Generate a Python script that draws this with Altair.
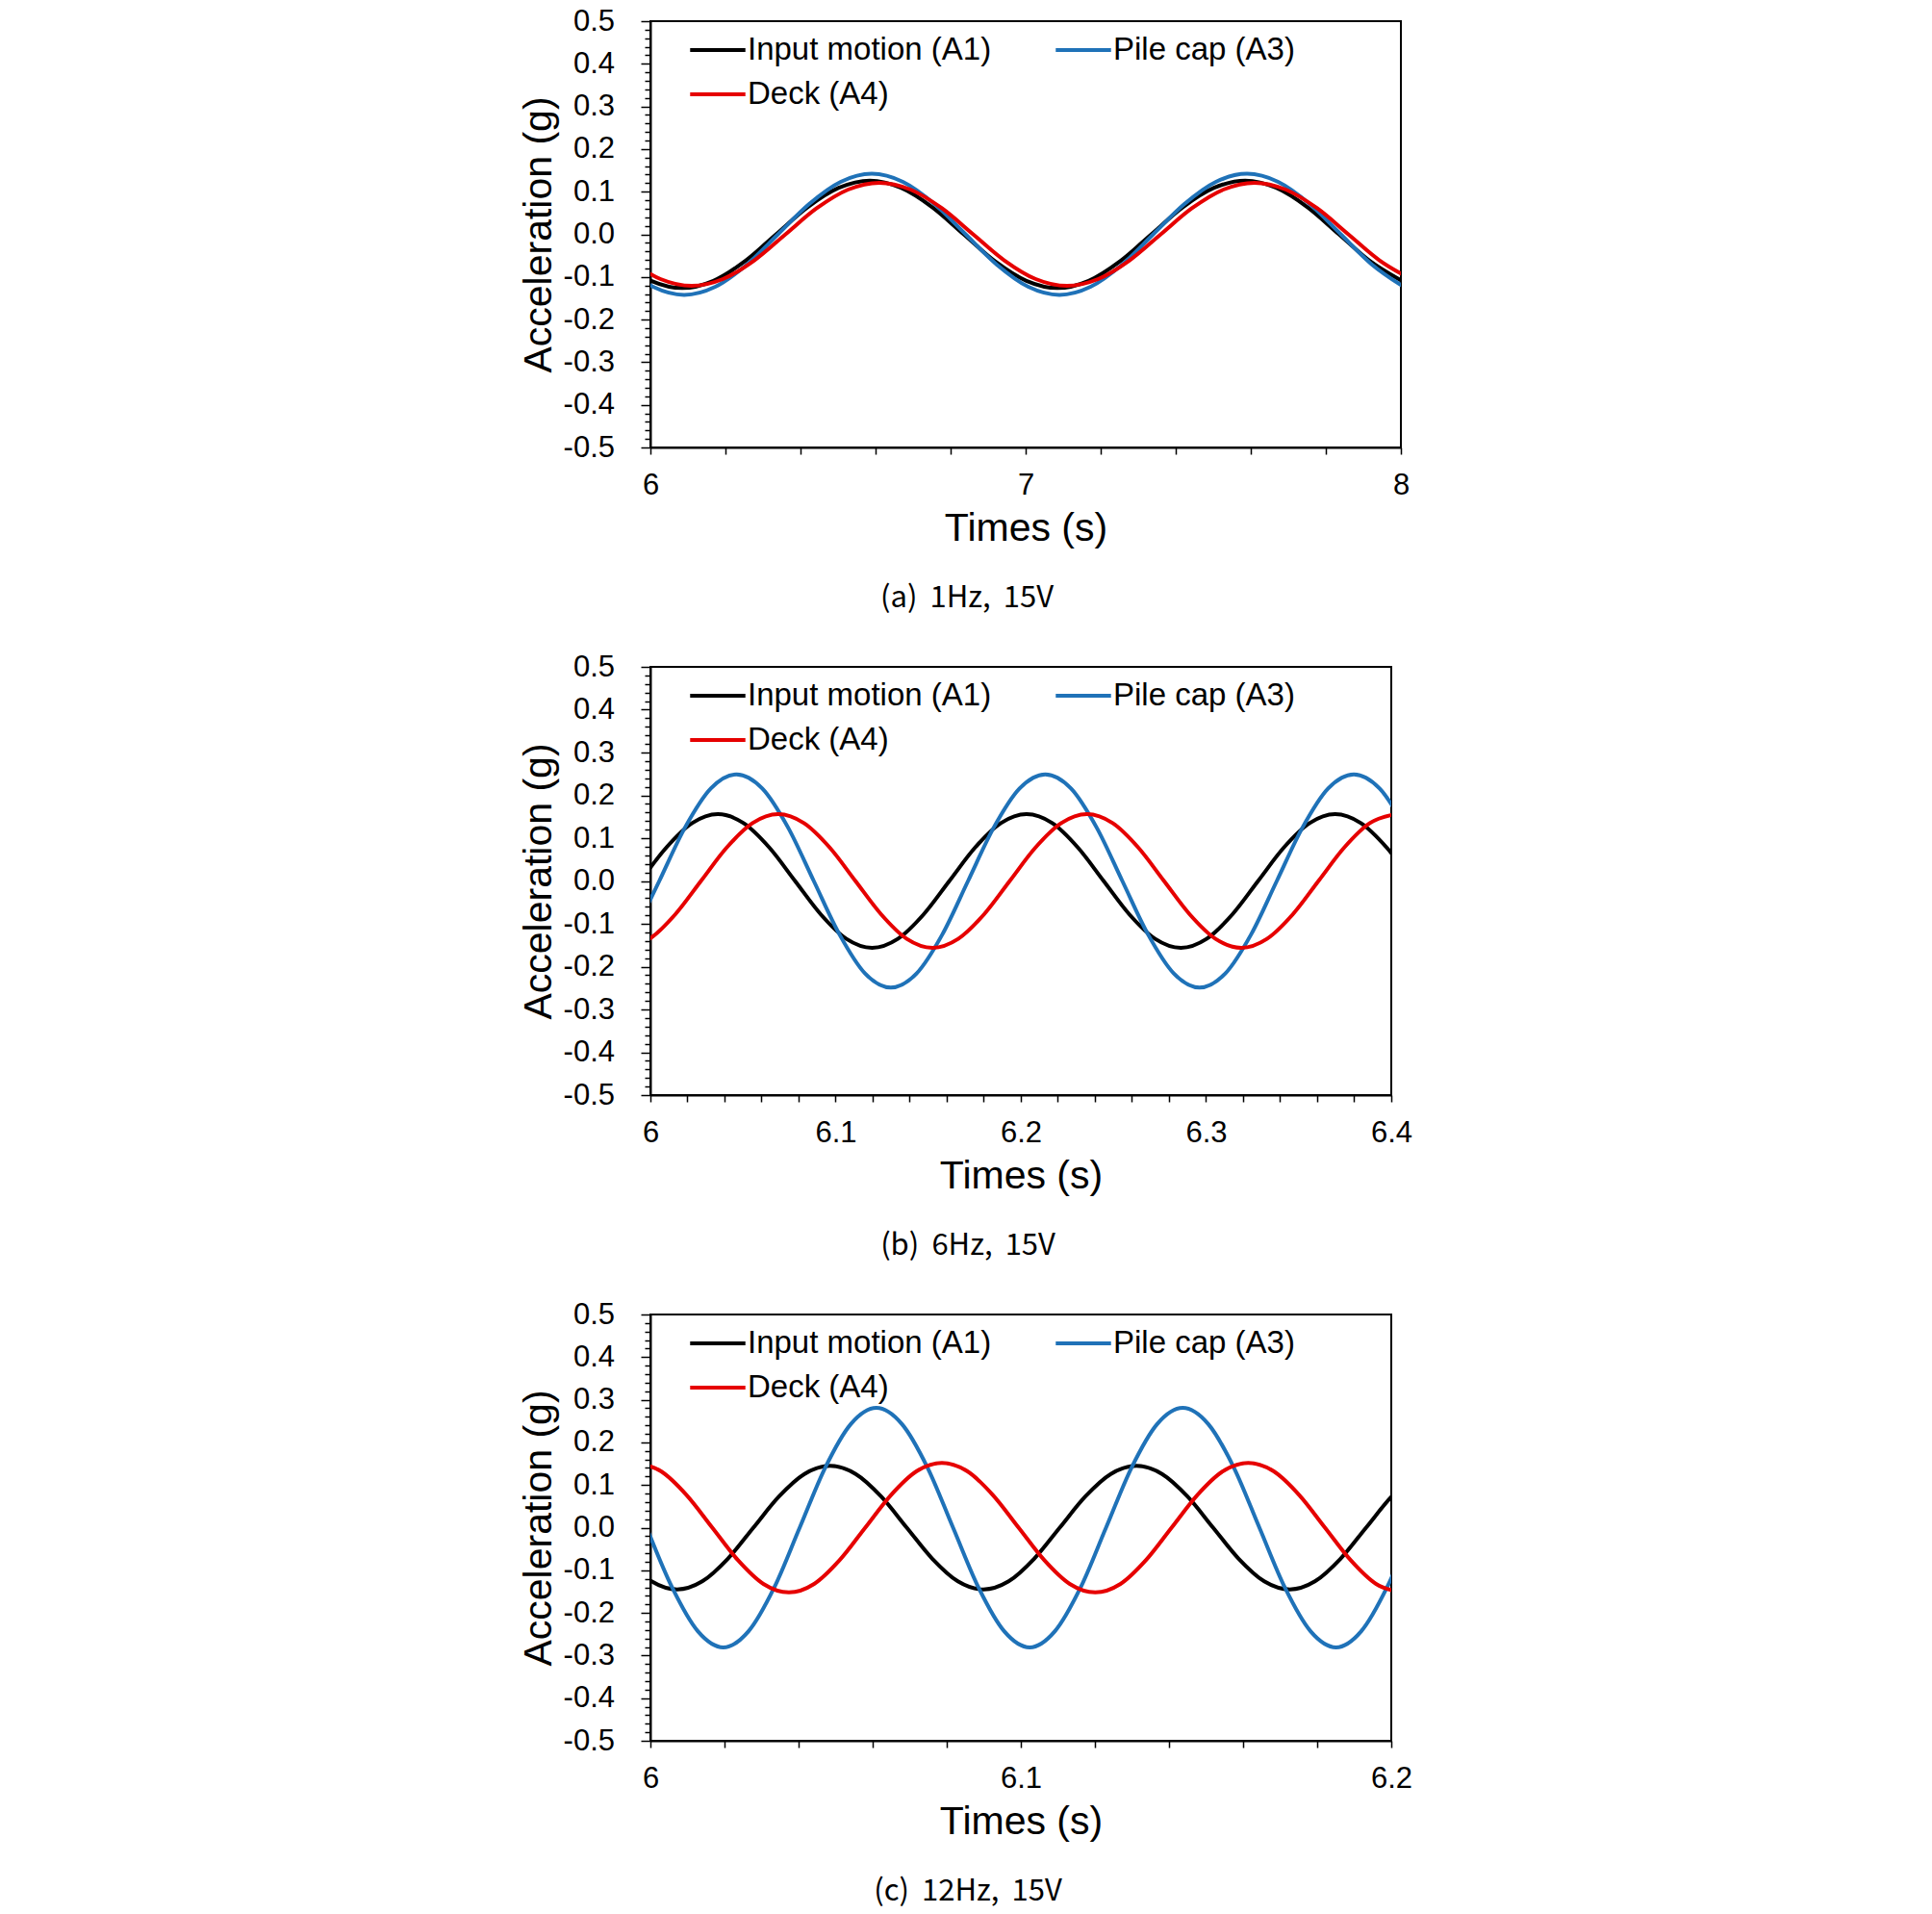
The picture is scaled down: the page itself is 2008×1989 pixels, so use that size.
import altair as alt
import pandas as pd

SERIES = ["Input motion (A1)", "Pile cap (A3)", "Deck (A4)"]
# legend entries fill column by column: A1 and A4 on the left, A3 on the right
LEGEND_ORDER = ["Input motion (A1)", "Deck (A4)", "Pile cap (A3)"]
LEGEND_COLORS = ["#000000", "#e60000", "#1f72b8"]

# ---------------- (a) 1 Hz, 15 V ----------------
A_T_A1 = [5.918, 6.002, 6.085, 6.168, 6.252, 6.335, 6.418, 6.502, 6.585, 6.668, 6.752, 6.835, 6.918,
          7.002, 7.085, 7.168, 7.252, 7.335, 7.418, 7.502, 7.585, 7.668, 7.752, 7.835, 7.918, 8.002]
A_V_A1 = [-0.063, -0.109, -0.126, -0.109, -0.063, 0.0, 0.063, 0.109, 0.126, 0.109, 0.063, 0.0, -0.063,
          -0.109, -0.126, -0.109, -0.063, 0.0, 0.063, 0.109, 0.126, 0.109, 0.063, 0.0, -0.063, -0.109]
A_T_A3 = [5.923, 6.007, 6.090, 6.173, 6.257, 6.340, 6.423, 6.507, 6.590, 6.673, 6.757, 6.840, 6.923,
          7.007, 7.090, 7.173, 7.257, 7.340, 7.423, 7.507, 7.590, 7.673, 7.757, 7.840, 7.923, 8.007]
A_V_A3 = [-0.071, -0.123, -0.142, -0.123, -0.071, 0.0, 0.071, 0.123, 0.142, 0.123, 0.071, 0.0, -0.071,
          -0.123, -0.142, -0.123, -0.071, 0.0, 0.071, 0.123, 0.142, 0.123, 0.071, 0.0, -0.071, -0.123]
A_T_A4 = [5.943, 6.027, 6.110, 6.193, 6.277, 6.360, 6.443, 6.527, 6.610, 6.693, 6.777, 6.860, 6.943,
          7.027, 7.110, 7.193, 7.277, 7.360, 7.443, 7.527, 7.610, 7.693, 7.777, 7.860, 7.943, 8.027]
A_V_A4 = [-0.061, -0.105, -0.121, -0.105, -0.061, 0.0, 0.061, 0.105, 0.121, 0.105, 0.061, 0.0, -0.061,
          -0.105, -0.121, -0.105, -0.061, 0.0, 0.061, 0.105, 0.121, 0.105, 0.061, 0.0, -0.061, -0.105]

# ---------------- (b) 6 Hz, 15 V ----------------
B_T_A1 = [5.9947, 6.0086, 6.0225, 6.0364, 6.0503, 6.0642, 6.0781, 6.0920, 6.1058, 6.1197, 6.1336,
          6.1475, 6.1614, 6.1753, 6.1892, 6.2031, 6.2170, 6.2308, 6.2447, 6.2586, 6.2725, 6.2864,
          6.3003, 6.3142, 6.3281, 6.3420, 6.3559, 6.3697, 6.3836, 6.3975, 6.4114]
B_V_A1 = [0.0, 0.078, 0.135, 0.156, 0.135, 0.078, 0.0, -0.078, -0.135, -0.156, -0.135,
          -0.078, 0.0, 0.078, 0.135, 0.156, 0.135, 0.078, 0.0, -0.078, -0.135, -0.156,
          -0.135, -0.078, 0.0, 0.078, 0.135, 0.156, 0.135, 0.078, 0.0]
B_T_A3 = [5.9909, 6.0048, 6.0187, 6.0326, 6.0465, 6.0604, 6.0743, 6.0882, 6.1021, 6.1159, 6.1298,
          6.1437, 6.1576, 6.1715, 6.1854, 6.1993, 6.2132, 6.2271, 6.2409, 6.2548, 6.2687, 6.2826,
          6.2965, 6.3104, 6.3243, 6.3382, 6.3521, 6.3659, 6.3798, 6.3937, 6.4076]
B_V_A3 = [-0.125, 0.0, 0.125, 0.216, 0.249, 0.216, 0.125, 0.0, -0.125, -0.216, -0.249,
          -0.216, -0.125, 0.0, 0.125, 0.216, 0.249, 0.216, 0.125, 0.0, -0.125, -0.216,
          -0.249, -0.216, -0.125, 0.0, 0.125, 0.216, 0.249, 0.216, 0.125]
B_T_A4 = [5.9857, 5.9996, 6.0134, 6.0273, 6.0412, 6.0551, 6.0690, 6.0829, 6.0968, 6.1107, 6.1246,
          6.1384, 6.1523, 6.1662, 6.1801, 6.1940, 6.2079, 6.2218, 6.2357, 6.2496, 6.2634, 6.2773,
          6.2912, 6.3051, 6.3190, 6.3329, 6.3468, 6.3607, 6.3746, 6.3884, 6.4023]
B_V_A4 = [-0.156, -0.135, -0.078, 0.0, 0.078, 0.135, 0.156, 0.135, 0.078, 0.0, -0.078,
          -0.135, -0.156, -0.135, -0.078, 0.0, 0.078, 0.135, 0.156, 0.135, 0.078, 0.0,
          -0.078, -0.135, -0.156, -0.135, -0.078, 0.0, 0.078, 0.135, 0.156]

# ---------------- (c) 12 Hz, 15 V ----------------
C_T_A1 = [5.9934, 6.0003, 6.0072, 6.0140, 6.0209, 6.0278, 6.0347, 6.0416, 6.0485, 6.0554, 6.0623,
          6.0692, 6.0761, 6.0830, 6.0899, 6.0967, 6.1036, 6.1105, 6.1174, 6.1243, 6.1312, 6.1381,
          6.1450, 6.1519, 6.1588, 6.1657, 6.1726, 6.1794, 6.1863, 6.1932, 6.2001, 6.2070]
C_V_A1 = [-0.073, -0.126, -0.145, -0.126, -0.073, 0.0, 0.073, 0.126, 0.145, 0.126, 0.073,
          0.0, -0.073, -0.126, -0.145, -0.126, -0.073, 0.0, 0.073, 0.126, 0.145, 0.126,
          0.073, 0.0, -0.073, -0.126, -0.145, -0.126, -0.073, 0.0, 0.073, 0.126]
C_T_A3 = [5.9990, 6.0059, 6.0128, 6.0197, 6.0265, 6.0334, 6.0403, 6.0472, 6.0541, 6.0610, 6.0679,
          6.0748, 6.0817, 6.0886, 6.0955, 6.1024, 6.1092, 6.1161, 6.1230, 6.1299, 6.1368, 6.1437,
          6.1506, 6.1575, 6.1644, 6.1713, 6.1782, 6.1851, 6.1919, 6.1988, 6.2057]
C_V_A3 = [0.0, -0.141, -0.243, -0.281, -0.243, -0.141, 0.0, 0.141, 0.243, 0.281, 0.243,
          0.141, 0.0, -0.141, -0.243, -0.281, -0.243, -0.141, 0.0, 0.141, 0.243, 0.281,
          0.243, 0.141, 0.0, -0.141, -0.243, -0.281, -0.243, -0.141, 0.0]
C_T_A4 = [5.9960, 6.0029, 6.0098, 6.0167, 6.0236, 6.0305, 6.0374, 6.0442, 6.0511, 6.0580, 6.0649,
          6.0718, 6.0787, 6.0856, 6.0925, 6.0994, 6.1063, 6.1132, 6.1201, 6.1269, 6.1338, 6.1407,
          6.1476, 6.1545, 6.1614, 6.1683, 6.1752, 6.1821, 6.1890, 6.1959, 6.2028]
C_V_A4 = [0.152, 0.132, 0.076, 0.0, -0.076, -0.132, -0.152, -0.132, -0.076, 0.0, 0.076,
          0.132, 0.152, 0.132, 0.076, 0.0, -0.076, -0.132, -0.152, -0.132, -0.076, 0.0,
          0.076, 0.132, 0.152, 0.132, 0.076, 0.0, -0.076, -0.132, -0.152]

FONT = "Liberation Sans"
CAPTION_FONT = "Noto Sans CJK KR"


def long_table(pairs):
    rows = []
    for name, (ts, vs) in zip(SERIES, pairs):
        rows += [{"t": t, "v": v, "series": name} for t, v in zip(ts, vs)]
    return pd.DataFrame(rows)


Y_TICKS = [round(-0.5 + 0.02 * i, 2) for i in range(51)]
Y_MAJOR = "abs(datum.value * 10 - round(datum.value * 10)) < 1e-6"


def panel(df, x_domain, x_ticks, label_step, w, h, caption, cap_dx):
    x_major = f"abs(datum.value / {label_step} - round(datum.value / {label_step})) < 1e-6"
    x_axis = alt.Axis(
        values=x_ticks,
        labelExpr=f"{x_major} ? '' + datum.value : ''",
        tickSize=7, labelPadding=17.5, labelFlush=False, labelOverlap=False,
        grid=False, titlePadding=9.5,
    )
    y_axis = alt.Axis(
        values=Y_TICKS,
        labelExpr=f"{Y_MAJOR} ? (datum.value < 0 ? '-' : '') + format(abs(datum.value), '.1f') : ''",
        tickSize={"condition": {"test": Y_MAJOR, "value": 10}, "value": 6},
        labelPadding=27.5, labelFlush=False, labelOverlap=False,
        grid=False, titlePadding=4,
    )
    legend = alt.Legend(
        orient="none", legendX=39, legendY=7, columns=2, title=None,
        symbolType="stroke", symbolSize=3300, symbolStrokeWidth=4,
        labelFont=FONT, labelFontSize=33, labelColor="black", labelOffset=0,
        labelLimit=0, columnPadding=64, rowPadding=0, clipHeight=46, padding=0,
    )
    return alt.Chart(df).mark_line(strokeWidth=4, interpolate="monotone", clip=True).encode(
        x=alt.X("t:Q", title="Times (s)",
                scale=alt.Scale(domain=x_domain, nice=False, zero=False), axis=x_axis),
        y=alt.Y("v:Q", title="Acceleration (g)",
                scale=alt.Scale(domain=[-0.5, 0.5], nice=False, zero=False), axis=y_axis),
        color=alt.Color("series:N", scale=alt.Scale(domain=LEGEND_ORDER, range=LEGEND_COLORS),
                        legend=legend),
    ).properties(
        width=w, height=h,
        title=alt.TitleParams(caption, orient="bottom", anchor="middle", frame="group",
                              dx=cap_dx, offset=38, font=CAPTION_FONT, fontSize=31,
                              fontWeight="normal", color="black"),
    )


chart_a = panel(long_table([(A_T_A1, A_V_A1), (A_T_A3, A_V_A3), (A_T_A4, A_V_A4)]),
                [6, 8], [round(6 + 0.2 * i, 1) for i in range(11)], 1,
                780, 443, "(a)\u2009 1Hz,\u2009 15V", -61)
chart_b = panel(long_table([(B_T_A1, B_V_A1), (B_T_A3, B_V_A3), (B_T_A4, B_V_A4)]),
                [6, 6.4], [round(6 + 0.02 * i, 2) for i in range(21)], 0.1,
                770, 445, "(b)\u2009 6Hz,\u2009 15V", -55)
chart_c = panel(long_table([(C_T_A1, C_V_A1), (C_T_A3, C_V_A3), (C_T_A4, C_V_A4)]),
                [6, 6.2], [round(6 + 0.02 * i, 2) for i in range(11)], 0.1,
                770, 443, "(c)\u2009 12Hz,\u2009 15V", -55)

chart = alt.vconcat(chart_a, chart_b, chart_c, spacing=38).resolve_scale(
    x="independent", color="independent"
).resolve_legend(color="independent").properties(
    padding={"left": 538, "top": 5, "right": 20, "bottom": 10},
    background="white",
).configure_view(
    stroke="black", strokeWidth=2,
).configure_axis(
    labelFont=FONT, labelColor="black", titleFont=FONT, titleColor="black",
    titleFontWeight="normal", domainColor="black", domainWidth=2,
    tickColor="black", tickWidth=1.5,
).configure_axisX(
    labelFontSize=31, titleFontSize=41,
).configure_axisY(
    labelFontSize=31, titleFontSize=41,
)

chart.save("out.html", embed_options={"renderer": "svg", "actions": False})
